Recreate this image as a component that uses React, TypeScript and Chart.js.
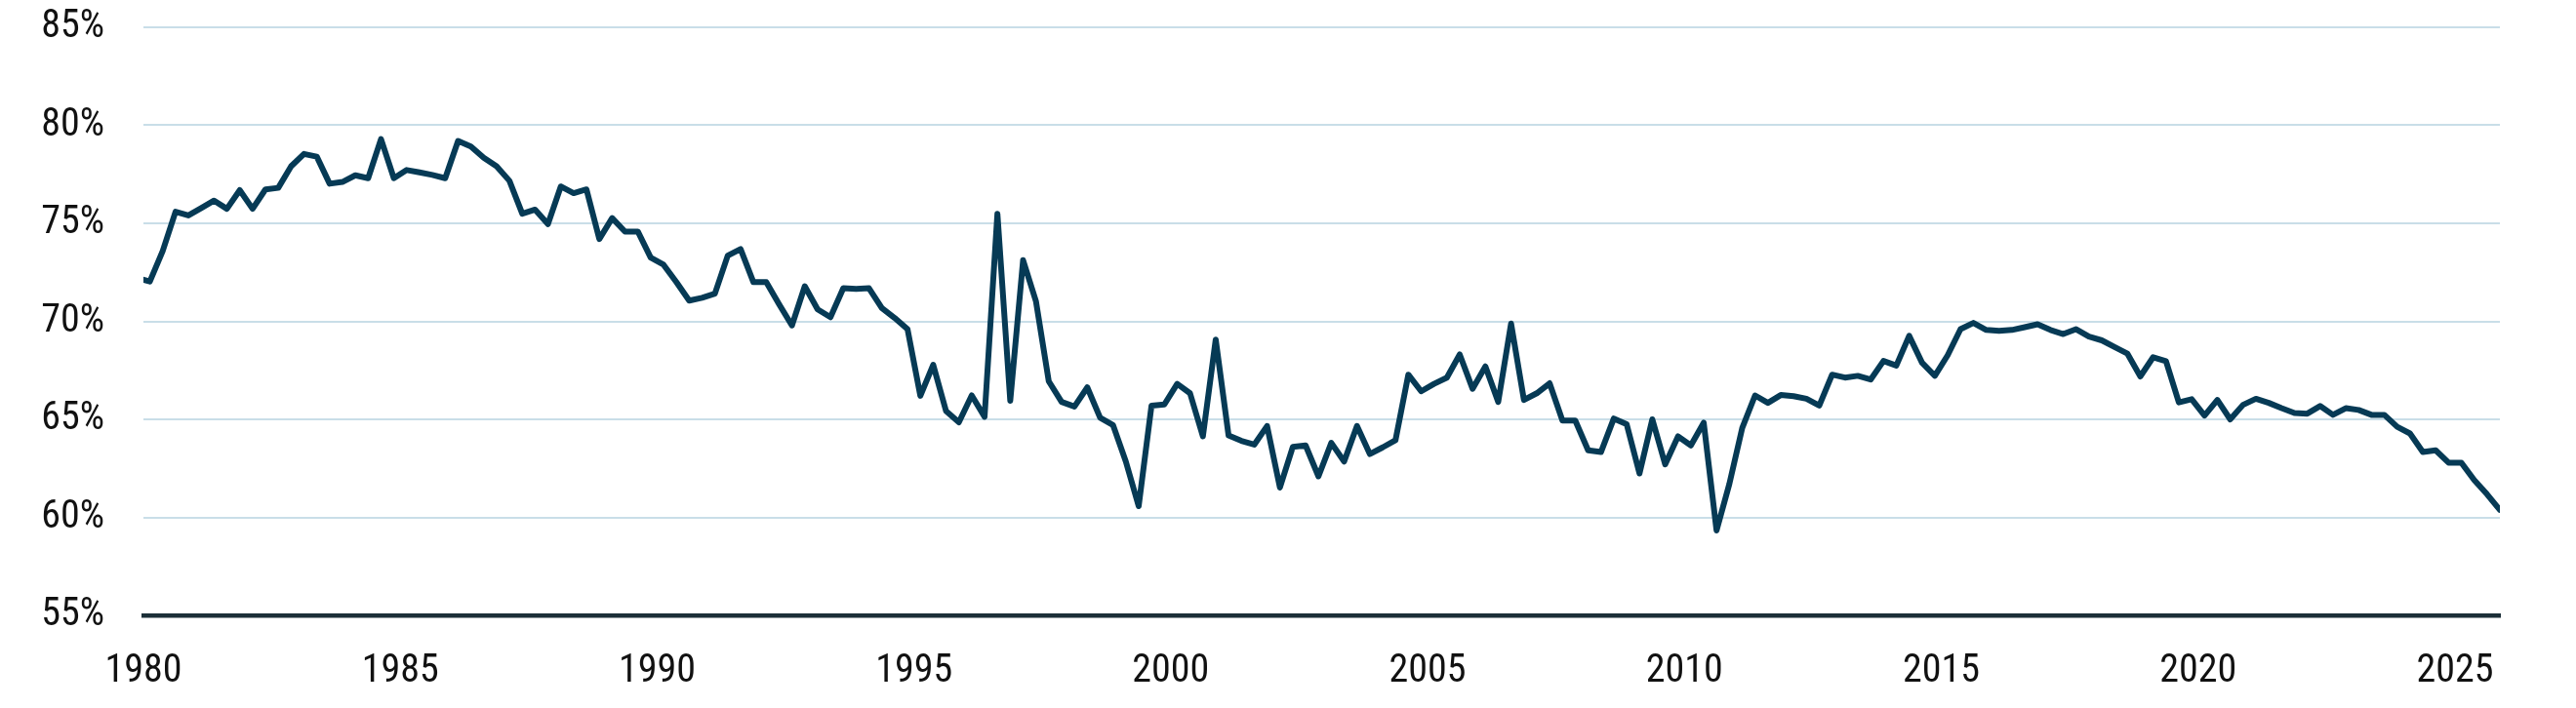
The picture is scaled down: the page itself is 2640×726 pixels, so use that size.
import { useEffect, useRef } from 'react';
import { Chart, registerables } from 'chart.js';

Chart.register(...registerables);

// quarterly series, first point is 1979 Q4 (plotted mid-quarter)
const firstYear = 1979;
const firstQuarter = 4;

const ratio = [
  72.22, 72.03, 73.59, 75.59, 75.4, 75.78, 76.16, 75.74, 76.69, 75.74,
  76.73, 76.81, 77.91, 78.54, 78.4, 77.02, 77.11, 77.45, 77.3, 79.3,
  77.3, 77.72, 77.6, 77.47, 77.3, 79.2, 78.92, 78.35, 77.91, 77.17,
  75.49, 75.7, 74.96, 76.88, 76.54, 76.73, 74.2, 75.27, 74.58, 74.58,
  73.25, 72.89, 72.0, 71.06, 71.2, 71.41, 73.35, 73.69, 72.0, 72.0,
  70.87, 69.79, 71.79, 70.61, 70.21, 71.69, 71.65, 71.69, 70.68, 70.17,
  69.6, 66.2, 67.78, 65.42, 64.85, 66.22, 65.13, 75.49, 65.95, 73.12,
  71.03, 66.94, 65.89, 65.65, 66.63, 65.08, 64.71, 62.85, 60.57, 65.7,
  65.76, 66.81, 66.33, 64.13, 69.07, 64.18, 63.9, 63.71, 64.66, 61.52,
  63.59, 63.67, 62.09, 63.8, 62.85, 64.66, 63.23, 63.57, 63.94, 67.28,
  66.43, 66.81, 67.13, 68.31, 66.56, 67.7, 65.89, 69.89, 65.99, 66.33,
  66.84, 64.94, 64.94, 63.42, 63.33, 65.04, 64.75, 62.24, 65.0, 62.7,
  64.13, 63.67, 64.83, 59.33, 61.71, 64.56, 66.22, 65.84, 66.24, 66.18,
  66.05, 65.7, 67.28, 67.13, 67.22, 67.03, 67.98, 67.74, 69.26, 67.89,
  67.22, 68.27, 69.6, 69.92, 69.56, 69.51, 69.56, 69.7, 69.85, 69.56,
  69.35, 69.6, 69.22, 69.03, 68.69, 68.35, 67.19, 68.17, 67.97, 65.86,
  66.03, 65.19, 65.99, 65.0, 65.74, 66.05, 65.84, 65.57, 65.32, 65.29,
  65.68, 65.23, 65.57, 65.48, 65.23, 65.23, 64.62, 64.28, 63.33, 63.42,
  62.79, 62.79, 61.9, 61.18, 60.38,
];

const yearTicks = [1980, 1985, 1990, 1995, 2000, 2005, 2010, 2015, 2020, 2025];
const pctTicks = [55, 60, 65, 70, 75, 80, 85];

const FONT = "'Roboto Condensed', 'Liberation Sans Narrow', 'Arial Narrow', Roboto, sans-serif";

export default function App() {
  const chartRef = useRef<HTMLCanvasElement>(null);
  const chartInstance = useRef<Chart | null>(null);

  useEffect(() => {
    if (!chartRef.current) return;
    const ctx = chartRef.current.getContext('2d');
    if (!ctx) return;
    if (chartInstance.current) chartInstance.current.destroy();

    const start = firstYear + (firstQuarter - 1) * 0.25 + 0.125;
    const points = ratio.map((v, i) => ({ x: start + i * 0.25, y: v }));
    const lastX = points[points.length - 1].x;

    chartInstance.current = new Chart(ctx, {
      type: 'line',
      data: {
        datasets: [{
          data: points,
          borderColor: '#063a55',
          borderWidth: 6,
          borderJoinStyle: 'round',
          borderCapStyle: 'round',
          pointRadius: 0,
          tension: 0,
          fill: false,
        }],
      },
      options: {
        responsive: false,
        devicePixelRatio: 1,
        animation: false,
        layout: { padding: { top: 28, right: 78, left: 0, bottom: 0 } },
        plugins: { legend: { display: false }, tooltip: { enabled: false } },
        scales: {
          x: {
            type: 'linear',
            min: yearTicks[0],
            max: lastX,
            afterFit: (s: any) => {
              s.height = 95;
              s.paddingLeft = 0;
              s.paddingRight = 0;
            },
            afterBuildTicks: (s: any) => { s.ticks = yearTicks.map((v) => ({ value: v })); },
            grid: { display: false, drawTicks: false },
            border: { display: true, color: '#1c2f38', width: 4.5 },
            ticks: {
              padding: 34,
              color: '#111',
              font: { family: FONT, size: 40 },
              maxRotation: 0,
              autoSkip: false,
              callback: (v: any) => String(v),
            },
          },
          y: {
            min: pctTicks[0],
            max: pctTicks[pctTicks.length - 1],
            afterFit: (s: any) => {
              s.width = 147;
              s.paddingTop = 0;
              s.paddingBottom = 0;
            },
            afterBuildTicks: (s: any) => { s.ticks = pctTicks.map((v) => ({ value: v })); },
            grid: {
              drawTicks: false,
              lineWidth: 2,
              color: (c: any) => (c.tick && c.tick.value === 55 ? 'rgba(0,0,0,0)' : '#c9dee8'),
            },
            border: { display: false },
            ticks: {
              padding: 40,
              color: '#111',
              font: { family: FONT, size: 40 },
              callback: (v: any) => v + '%',
            },
          },
        },
      },
    });

    return () => {
      if (chartInstance.current) {
        chartInstance.current.destroy();
        chartInstance.current = null;
      }
    };
  }, []);

  return (
    <div style={{ position: 'absolute', left: 0, top: 0, width: 2640, height: 726, background: '#fff' }}>
      <canvas ref={chartRef} width={2640} height={726}></canvas>
    </div>
  );
}
